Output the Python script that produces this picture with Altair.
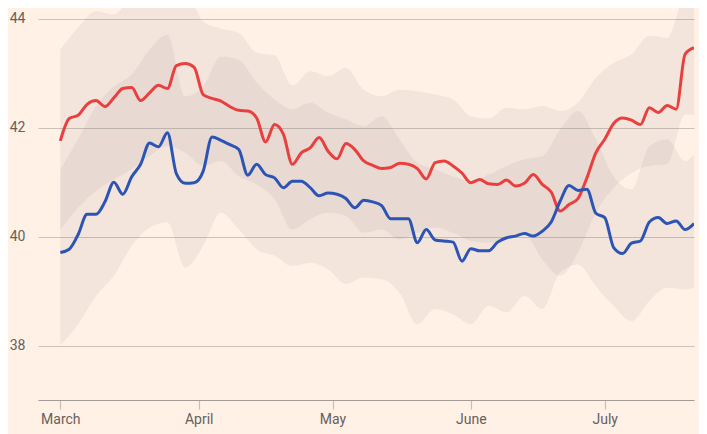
import altair as alt
import pandas as pd

# ---- data ----
start = "2023-03-01"
line_days = list(range(0, 143, 2))
red_values = [41.76, 42.17, 42.23, 42.43, 42.50, 42.39, 42.55, 42.72, 42.74, 42.50,
              42.64, 42.78, 42.72, 43.14, 43.18, 43.11, 42.61, 42.54, 42.49, 42.39,
              42.32, 42.31, 42.18, 41.74, 42.06, 41.88, 41.33, 41.54, 41.63, 41.82,
              41.57, 41.43, 41.71, 41.60, 41.39, 41.31, 41.25, 41.27, 41.35, 41.33,
              41.25, 41.06, 41.36, 41.39, 41.30, 41.17, 40.99, 41.05, 40.97, 40.96,
              41.04, 40.93, 40.98, 41.14, 40.96, 40.82, 40.47, 40.59, 40.70, 41.08,
              41.54, 41.79, 42.08, 42.18, 42.14, 42.06, 42.37, 42.28, 42.41, 42.34,
              43.35, 43.47]
blue_values = [39.71, 39.77, 40.04, 40.41, 40.41, 40.64, 41.00, 40.78, 41.10, 41.33,
               41.72, 41.65, 41.91, 41.16, 40.98, 40.99, 41.20, 41.83, 41.77, 41.69,
               41.60, 41.13, 41.33, 41.14, 41.08, 40.90, 41.02, 41.02, 40.90, 40.75,
               40.80, 40.78, 40.70, 40.53, 40.67, 40.64, 40.57, 40.33, 40.33, 40.33,
               39.89, 40.13, 39.94, 39.92, 39.90, 39.55, 39.78, 39.74, 39.74, 39.90,
               39.98, 40.01, 40.06, 40.01, 40.10, 40.27, 40.65, 40.94, 40.85, 40.87,
               40.43, 40.35, 39.80, 39.69, 39.88, 39.92, 40.27, 40.35, 40.24, 40.29,
               40.13, 40.24]

band_days = list(range(0, 141, 4)) + [142]
red_upper = [43.44, 43.84, 44.14, 44.08, 44.40, 44.50, 44.50, 44.50, 43.95, 43.82,
             43.74, 43.38, 43.33, 42.78, 43.04, 42.95, 43.10, 42.70, 42.58, 42.70,
             42.67, 42.61, 42.52, 42.21, 42.17, 42.37, 42.34, 42.40, 42.31, 42.46,
             42.92, 43.19, 43.35, 43.69, 43.65, 44.50, 44.60]
red_lower = [40.13, 40.53, 40.84, 41.05, 41.24, 41.48, 41.66, 41.54, 41.30, 41.39,
             41.11, 40.96, 40.69, 40.13, 40.32, 40.44, 40.38, 40.07, 40.13, 39.95,
             40.07, 40.17, 40.07, 39.92, 39.89, 39.95, 40.04, 39.58, 39.28, 39.71,
             40.44, 40.90, 41.17, 41.30, 41.33, 42.24, 42.24]
blue_upper = [41.24, 41.79, 42.40, 42.76, 42.98, 43.44, 43.71, 42.58, 42.76, 43.31,
              43.25, 42.83, 42.52, 42.34, 42.46, 42.28, 42.15, 42.03, 42.21, 41.79,
              41.36, 41.24, 41.11, 41.02, 41.14, 41.30, 41.42, 41.48, 41.97, 42.31,
              41.79, 41.11, 40.87, 41.66, 41.79, 41.39, 41.51]
blue_lower = [38.00, 38.39, 38.91, 39.28, 39.83, 40.17, 40.26, 39.43, 39.83, 40.44,
              40.13, 39.77, 39.65, 39.46, 39.52, 39.40, 39.13, 39.25, 39.22, 38.97,
              38.39, 38.67, 38.57, 38.39, 38.73, 38.61, 38.91, 38.67, 39.34, 39.49,
              39.09, 38.73, 38.45, 38.82, 39.06, 39.03, 39.06]

y_ticks = [38, 40, 42, 44]
series_names = ["Red", "Blue"]
series_colors = ["#E9403F", "#2B54B5"]


def to_dates(days):
    base = pd.Timestamp(start)
    return [(base + pd.Timedelta(days=d)).strftime("%Y-%m-%d") for d in days]


line_df = pd.concat([
    pd.DataFrame({"date": to_dates(line_days), "value": red_values, "series": "Red"}),
    pd.DataFrame({"date": to_dates(line_days), "value": blue_values, "series": "Blue"}),
])
band_df = pd.concat([
    pd.DataFrame({"date": to_dates(band_days), "lower": red_lower, "upper": red_upper, "series": "Red"}),
    pd.DataFrame({"date": to_dates(band_days), "lower": blue_lower, "upper": blue_upper, "series": "Blue"}),
])

FONT = "Roboto"
LABEL = "#66605C"

x_scale = alt.Scale(type="utc", domain=[
    alt.DateTime(year=2023, month=2, date=24, utc=True),
    alt.DateTime(year=2023, month=7, date=21, utc=True),
])
y_scale = alt.Scale(domain=[37, 44.2], nice=False, zero=False)

x_axis = alt.Axis(
    values=[alt.DateTime(year=2023, month=m, date=1, utc=True) for m in [3, 4, 5, 6, 7]],
    format="%B", title=None, grid=False,
    domainColor="#A39C96", domainWidth=1.2,
    tickColor="#C8BEB5", tickSize=9, tickWidth=1.2,
    labelColor=LABEL, labelFont=FONT, labelFontSize=14, labelPadding=3,
)
y_axis = alt.Axis(
    values=y_ticks, title=None, domain=False, ticks=False,
    gridColor="#CBC1B8", gridWidth=1,
    labelColor=LABEL, labelFont=FONT, labelFontSize=14, labelPadding=13,
)

bands = alt.Chart(band_df).mark_area(
    interpolate="monotone", clip=True, color="#8F8A96", opacity=0.11
).encode(
    x=alt.X("date:T", scale=x_scale, axis=x_axis),
    y=alt.Y("lower:Q", scale=y_scale, axis=y_axis),
    y2="upper:Q",
    detail="series:N",
)

lines = alt.Chart(line_df).mark_line(
    interpolate="monotone", strokeWidth=3, clip=True
).encode(
    x=alt.X("date:T", scale=x_scale),
    y=alt.Y("value:Q", scale=y_scale),
    color=alt.Color("series:N", scale=alt.Scale(domain=series_names, range=series_colors), legend=None),
    order=alt.Order("series:N", sort="descending"),
)

chart = alt.layer(bands, lines).properties(
    width=656, height=392,
    padding={"left": 30, "top": 0, "right": 5, "bottom": 34},
    autosize=alt.AutoSizeParams(type="none"),
    background="#FFF1E5",
).configure_view(strokeWidth=0)

chart.save("out.html", embed_options={"renderer": "svg", "actions": False})
